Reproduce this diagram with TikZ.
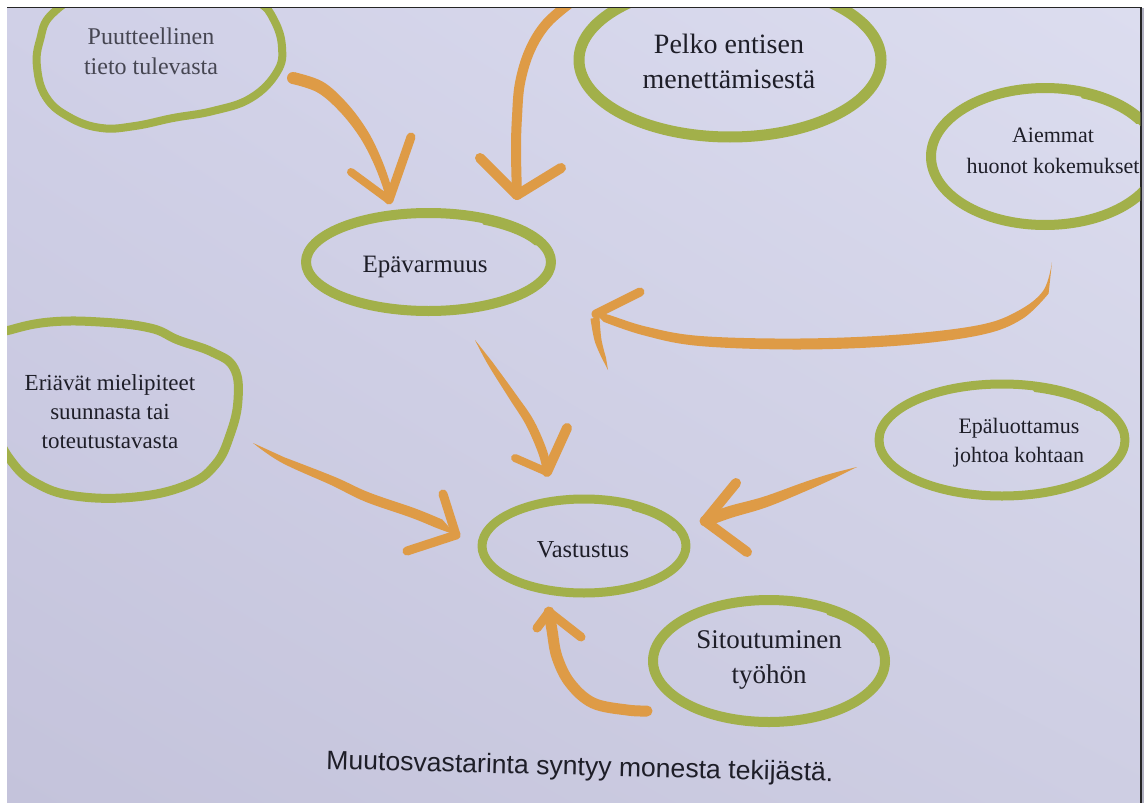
\documentclass[tikz,border=0pt]{standalone}
\usepackage{fontspec}
\usetikzlibrary{shadings}
\setmainfont{Liberation Serif}
\newfontfamily\capfont{Liberation Sans}
\newcommand\mylines[1]{\begin{tabular}[t]{@{}c@{}}#1\end{tabular}}
\definecolor{leaf}{RGB}{162,176,74}
\definecolor{amber}{RGB}{222,155,70}
\definecolor{ink}{RGB}{30,30,40}
\definecolor{inkl}{RGB}{70,70,82}
\definecolor{bgUL}{RGB}{208,208,231}
\definecolor{bgUR}{RGB}{220,221,239}
\definecolor{bgLL}{RGB}{196,195,219}
\definecolor{bgLR}{RGB}{206,206,227}
\definecolor{edgegrey}{RGB}{176,176,192}
\begin{document}
\begin{tikzpicture}[x=1pt,y=-1pt,
  blob/.style={draw=leaf, line width=9pt, line join=round},
  tailline/.style={draw=leaf, line width=3pt, line cap=round},
  brushline/.style={draw=amber, line width=#1, line cap=round, line join=round},
  armline/.style={draw=amber, line width=#1, line cap=round},
  lbl/.style={anchor=base, inner sep=0pt, text=ink}]
\useasboundingbox (0,0) rectangle (1144,803);
% page
\fill[white] (0,0) rectangle (1144,803);
\shade[upper left=bgUL, upper right=bgUR, lower left=bgLL, lower right=bgLR] (7,7.5) rectangle (1141,803);
\fill[edgegrey] (1141,7.5) rectangle (1144,803);
\draw[line width=1.5pt, black!85] (7,7.5) -- (1141,7.5) -- (1141,803);

\begin{scope}
\clip (7,8.3) rectangle (1140.3,803);
% blobs
\draw[blob, line width=8pt] plot[smooth cycle, tension=0.7] coordinates {(52,14) (40,40) (37,67) (46,97) (69,117) (101,128) (135,126) (173,118) (213,111) (251,98) (277,72) (282,47) (274,20) (258,2) (220,-12) (150,-15) (90,-8)};
\draw[blob, line width=11pt] (730,60) ellipse [x radius=151pt, y radius=77pt];
\draw[blob, line width=10pt] (1045,156.5) ellipse [x radius=114pt, y radius=68.5pt];
\draw[tailline] (1045,156.5) ++(70:109pt and 63.5pt) arc[start angle=70, end angle=32, x radius=109pt, y radius=63.5pt];
\draw[blob, line width=10pt] (428.5,262) ellipse [x radius=122.5pt, y radius=49pt];
\draw[tailline] (428.5,262) ++(62:117.5pt and 44pt) arc[start angle=62, end angle=24, x radius=117.5pt, y radius=44pt];
\draw[blob, line width=9pt] plot[smooth cycle, tension=0.7] coordinates {(-15,340) (10,330) (50,322) (100,322) (150,328) (178,340) (212,352) (234,368) (238,400) (230,435) (215,465) (187,485) (135,497) (75,496) (36,483) (12,462) (-5,430) (-15,390)};
\draw[blob, line width=9pt] (584,546) ellipse [x radius=102pt, y radius=47pt];
\draw[tailline] (584,546) ++(60:97.5pt and 42.5pt) arc[start angle=60, end angle=22, x radius=97.5pt, y radius=42.5pt];
\draw[blob, line width=9pt] (1002,440) ellipse [x radius=123pt, y radius=56pt];
\draw[tailline] (1002,440) ++(74:118.5pt and 51.5pt) arc[start angle=74, end angle=36, x radius=118.5pt, y radius=51.5pt];
\draw[blob, line width=10pt] (769,661) ellipse [x radius=116pt, y radius=61pt];
\draw[tailline] (769,661) ++(58:111pt and 56pt) arc[start angle=58, end angle=20, x radius=111pt, y radius=56pt];

% connector end points
\coordinate (aS) at (293,78);   \coordinate (aT) at (389,200);
\coordinate (bS) at (574,0);    \coordinate (bT) at (517,195);
\coordinate (cS) at (1052,262); \coordinate (cT) at (596,314);
\coordinate (dS) at (253,443);  \coordinate (dT) at (456,535);
\coordinate (eS) at (475,340);  \coordinate (eT) at (547,472);
\coordinate (fS) at (857,467);  \coordinate (fT) at (705,521);
\coordinate (gS) at (647,711);  \coordinate (gT) at (549,612);

% A: Puutteellinen -> Epavarmuus
\fill[amber] (aS) circle (6pt);
\fill[amber] plot[smooth, tension=0.6] coordinates {(291.1,83.7) (317.0,92.2) (339.0,110.8) (358.8,135.7) (372.9,161.8) (383.1,188.0) (385.5,200.5)}
  -- plot[smooth, tension=0.6] coordinates {(392.5,199.5) (390.9,186.0) (381.1,158.2) (367.2,130.3) (347.0,103.2) (323.0,81.8) (294.9,72.3)} -- cycle;
\draw[armline=8pt] (aT) -- (351,172);
\draw[armline=9pt] (aT) -- (411,137);

% B: from above -> Epavarmuus
\draw[brushline=10pt] plot[smooth, tension=0.6] coordinates {(bS) (547,23) (530,50) (520,83) (517,117) (516,150) (bT)};
\draw[armline=10pt] (bT) -- (480,158);
\draw[armline=10pt] (bT) -- (561,168);

% C: Aiemmat huonot kokemukset
\fill[amber] plot[smooth, tension=0.6] coordinates {(cS) (1043.4,290.5) (1017.7,311.1) (978.8,325.1) (899.5,334.5) (800,338.5) (700.5,336) (646.1,326.6) (606.4,314.2) (cT)}
  -- plot[smooth, tension=0.6] coordinates {(603.6,321.8) (643.9,335.4) (699.5,346) (800,349.5) (900.5,345.5) (981.2,334.9) (1022.3,318.9) (1048.6,293.5)} -- cycle;
\fill[amber] (cT) circle (4.5pt);
\draw[armline=9pt] (cT) -- (640,292);
\fill[amber] plot[smooth, tension=0.6] coordinates {(590.5,318.6) (594.6,340.8) (602.1,358.6)} -- (608,370)
  -- plot[smooth, tension=0.6] coordinates {(605.9,357.4) (601.4,339.2) (599.5,317.4)} -- cycle;

% D: Eriavat -> Vastustus
\fill[amber] plot[smooth, tension=0.6] coordinates {(dS) (281.7,462.7) (331.2,485.1) (365.1,501.6) (411.2,517.7) (437.6,528.4) (dT)}
  -- plot[smooth, tension=0.6] coordinates {(442.4,519.6) (414.8,508.3) (368.9,492.4) (334.8,476.9) (284.3,457.3)} -- cycle;
\draw[armline=9pt] (dT) -- (443,494);
\draw[armline=9pt] (dT) -- (407,551);

% E: Epavarmuus -> Vastustus
\fill[amber] plot[smooth, tension=0.6] coordinates {(eS) (487.9,364.4) (509.7,399.2) (526.0,425.1) (538.7,454.4) (543.1,472.8)}
  -- plot[smooth, tension=0.6] coordinates {(550.9,471.2) (547.3,451.6) (534.0,420.9) (516.3,394.8) (492.1,361.6)} -- cycle;
\fill[amber] (eT) circle (4pt);
\draw[armline=10pt] (eT) -- (567,428);
\draw[armline=8pt] (eT) -- (515,458);

% F: Epaluottamus -> Vastustus
\fill[amber] plot[smooth, tension=0.6] coordinates {(fS) (828.9,474.2) (802.4,482.8) (763.3,496.8) (728.2,506.3) (703.0,515.4)}
  -- plot[smooth, tension=0.6] coordinates {(707.0,526.6) (731.8,517.7) (766.7,507.2) (805.6,491.2) (831.1,479.8)} -- cycle;
\fill[amber] (fT) circle (5.5pt);
\draw[armline=10pt] (fT) -- (736,483);
\draw[armline=10pt] (fT) -- (747,552);

% G: Sitoutuminen -> Vastustus
\draw[brushline=11pt] plot[smooth, tension=0.6] coordinates {(gS) (627,710) (593,703) (570,683) (557,657) (552,630) (gT)};
\draw[armline=9pt] (gT) -- (537,628);
\draw[armline=9pt] (gT) -- (581,637);
\end{scope}

% labels
\node[lbl, text=inkl, font=\fontsize{24}{30}\selectfont] (puut) at (151,45) {\mylines{Puutteellinen\\tieto tulevasta}};
\node[lbl, font=\fontsize{28}{35}\selectfont] (pelko) at (729,53) {\mylines{Pelko entisen\\menettämisestä}};
\node[lbl, font=\fontsize{22}{31}\selectfont] (aiem) at (1053,142) {\mylines{Aiemmat\\huonot kokemukset}};
\node[lbl, font=\fontsize{25}{30}\selectfont] (epa) at (425,272) {Epävarmuus};
\node[lbl, font=\fontsize{23}{29}\selectfont] (eri) at (110,390) {\mylines{Eriävät mielipiteet\\suunnasta tai\\toteutustavasta}};
\node[lbl, font=\fontsize{24.4}{30}\selectfont] (vast) at (583,557) {Vastustus};
\node[lbl, font=\fontsize{22}{29}\selectfont] (epal) at (1019,433) {\mylines{Epäluottamus\\johtoa kohtaan}};
\node[lbl, font=\fontsize{27}{35}\selectfont] (sit) at (769,648) {\mylines{Sitoutuminen\\työhön}};
\node[anchor=base west, inner sep=0pt, rotate=-1.4, text=ink, font=\capfont\fontsize{26.6}{30}\selectfont] (cap) at (326,769) {Muutosvastarinta syntyy monesta tekijästä.};
\end{tikzpicture}
\end{document}
